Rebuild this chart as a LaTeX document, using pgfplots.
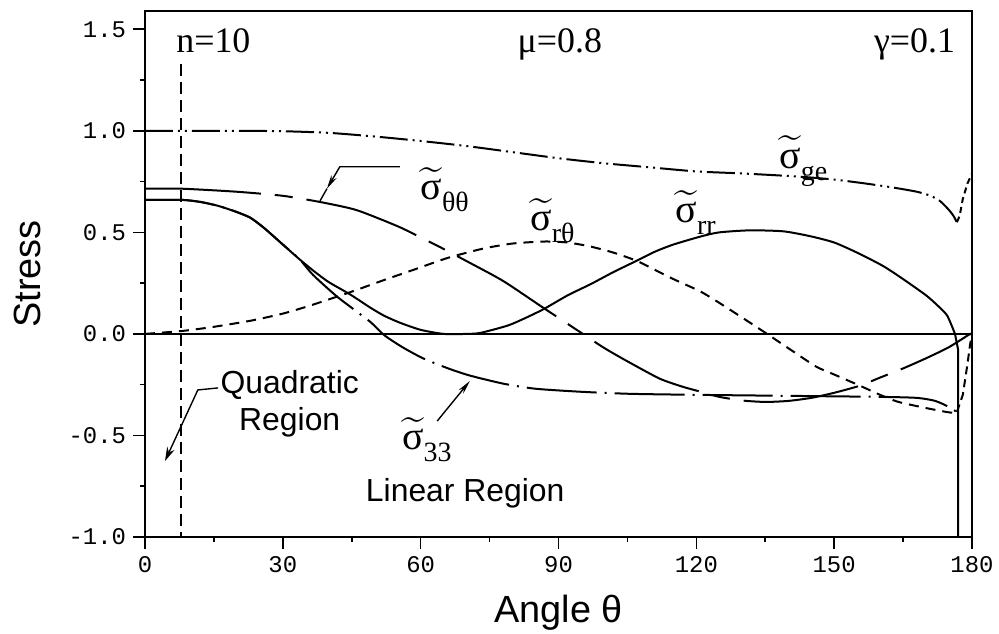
\documentclass[border=0pt]{standalone}
\usepackage{fontspec}
\setmainfont{Liberation Serif}
\setsansfont{Liberation Sans}
\setmonofont{Liberation Mono}
\usepackage{amsmath}
\usepackage{pgfplots}
\pgfplotsset{compat=1.18}
\usetikzlibrary{arrows.meta}
\newcommand{\stil}[1]{$\widetilde{\text{σ}}$\raisebox{-0.3em}{\fontsize{14}{14}\selectfont #1}}
\begin{document}
\begin{tikzpicture}
\begin{axis}[
 scale only axis, width=413.5bp, height=263bp,
 xmin=0, xmax=180, ymin=-1, ymax=1.59,
 axis line style={line width=1bp},
 xtick={0,30,60,90,120,150,180}, xticklabels={0,30,60,90,120,150,180},
 ytick={-1,-0.5,0,0.5,1,1.5}, yticklabels={-1.0,-0.5,0.0,0.5,1.0,1.5},
 minor x tick num=1, minor y tick num=1,
 tick align=outside, tick pos=left,
 major tick length=6bp, minor tick length=2.5bp,
 every tick/.style={black, line width=0.8bp},
 tick label style={font=\ttfamily\fontsize{12}{12}\selectfont},
 xlabel={Angle θ}, ylabel={Stress},
 label style={font=\sffamily\fontsize{19}{19}\selectfont},
 xlabel style={at={([yshift=-38bp]axis description cs:0.5,0)}, anchor=center},
 ylabel style={at={([xshift=-59bp]axis description cs:0,0.5)}, anchor=center},
 clip mode=individual,
]
% zero line
\addplot[black, line width=0.8bp] coordinates {(0,0) (180,0)};
% quadratic/linear boundary
\addplot[black, line width=0.8bp, dash pattern=on 6bp off 3bp] coordinates {(7.8,1.33) (7.8,-1)};
% sigma_ge
\addplot[black, line width=1bp, smooth, tension=0.4, dash pattern=on 14bp off 2.5bp on 1bp off 2.5bp on 1bp off 2.5bp] coordinates {
(0,1.0) (10,1.0) (20,1.0) (30,0.998) (40,0.99) (50,0.972) (60,0.95) (70,0.925) (80,0.895) (90,0.865) (100,0.84) (110,0.82) (120,0.80) (130,0.79) (142,0.775) (150,0.76) (157,0.74) (163,0.72) (168,0.70) (171,0.68) (173,0.655) (175,0.61) (176,0.58) (176.7,0.55)};
\addplot[black, line width=1bp, dash pattern=on 3bp off 2bp] coordinates {
(176.7,0.55) (177.3,0.58) (178,0.665) (179,0.74) (180,0.79)};
% sigma_thetatheta
\addplot[black, line width=1bp, smooth, tension=0.4, dash pattern=on 58bp off 7bp on 9bp off 7bp] coordinates {
(0,0.715) (8,0.715) (20,0.70) (30,0.68) (38,0.65) (46,0.61) (55,0.53) (60,0.475) (64,0.43) (70.7,0.35) (78,0.26) (86.6,0.13) (95.3,0.0) (100,-0.07) (105,-0.135) (112,-0.22) (117,-0.26) (121,-0.285) (125,-0.31) (130,-0.328) (135,-0.335) (140,-0.33) (145,-0.315) (150,-0.29) (155.6,-0.255) (160,-0.215) (165,-0.17) (170,-0.12) (175,-0.065) (179.6,0.0) (180,0.0)};
% sigma_rr
\addplot[black, line width=1bp, smooth, tension=0.4] coordinates {
(0,0.66) (8,0.66) (12,0.65) (16,0.63) (20,0.60) (23,0.571) (26,0.52) (30,0.44) (33.7,0.366) (37,0.305) (40,0.255) (44.6,0.195) (49,0.13) (52,0.09) (55.5,0.055) (60,0.02) (65,0.0) (70,0.0) (73,0.005) (78.8,0.04) (82,0.07) (86.6,0.12) (92,0.19) (97,0.245) (102,0.305) (107,0.36) (111,0.405) (115,0.44) (121,0.48) (125,0.50) (131.7,0.51) (139,0.505) (145,0.48) (150,0.45) (155,0.40) (160.6,0.335) (165,0.27) (170,0.19) (172.5,0.14) (174.6,0.09) (176.3,0.0)};
\addplot[black, line width=1bp] coordinates {(176.3,0.0) (177,-0.08) (177,-1.0)};
% sigma_rtheta
\addplot[black, line width=1bp, smooth, tension=0.4, dash pattern=on 5bp off 3.5bp] coordinates {
(0,0.0) (8.3,0.015) (15,0.035) (23,0.065) (30,0.10) (36,0.14) (44.6,0.205) (52,0.265) (59,0.32) (66,0.375) (73.6,0.42) (80,0.445) (87,0.455) (92,0.45) (97,0.43) (102,0.40) (107,0.36) (111,0.315) (115,0.27) (120.8,0.21) (124.5,0.16) (130,0.08) (135.4,0.0) (140,-0.07) (146,-0.16) (150,-0.2) (155.6,-0.255) (160,-0.3) (164,-0.335) (170,-0.365) (174.6,-0.385) (176.5,-0.39)};
% sigma_33
\addplot[black, line width=1bp, smooth, tension=0.4, dash pattern=on 35bp off 4bp on 1bp off 4bp] coordinates {
(0,0.66) (8,0.66) (12,0.65) (16,0.63) (20,0.60) (23,0.571) (26,0.52) (30,0.44) (33.7,0.366) (36.6,0.29) (42,0.18) (49,0.06) (52,-0.005) (56,-0.065) (60.5,-0.12) (66,-0.17) (70.7,-0.205) (78,-0.245) (85,-0.27) (95,-0.285) (105.6,-0.295) (120,-0.30) (140,-0.305) (160,-0.31) (168,-0.315) (172,-0.33) (175,-0.36) (176.7,-0.385)};
\addplot[black, line width=1bp, dash pattern=on 4bp off 2.5bp] coordinates {
(176.7,-0.385) (178,-0.3) (179,-0.15) (179.6,-0.05) (180,0.0)};
% annotations
\node[font=\fontsize{18}{18}\selectfont, anchor=base west] at (axis cs:5.3,1.384) {n=10};
\node[font=\fontsize{18}{18}\selectfont, anchor=base] at (axis cs:90.3,1.384) {μ=0.8};
\node[font=\fontsize{18}{18}\selectfont, anchor=base] at (axis cs:167.5,1.384) {γ=0.1};
\node[font=\fontsize{20}{20}\selectfont, anchor=base west, inner sep=0pt] at (axis cs:59.9,0.66) {\stil{θθ}};
\node[font=\fontsize{20}{20}\selectfont, anchor=base west, inner sep=0pt] at (axis cs:83.8,0.507) {\stil{rθ}};
\node[font=\fontsize{20}{20}\selectfont, anchor=base west, inner sep=0pt] at (axis cs:115.4,0.547) {\stil{rr}};
\node[font=\fontsize{20}{20}\selectfont, anchor=base west, inner sep=0pt] at (axis cs:138,0.815) {\stil{ge}};
\node[font=\fontsize{20}{20}\selectfont, anchor=base west, inner sep=0pt] at (axis cs:55.9,-0.571) {\stil{33}};
\node[font=\sffamily\fontsize{16}{18.5}\selectfont, align=center] at (axis cs:31.5,-0.345) {Quadratic\\Region};
\node[font=\sffamily\fontsize{16}{16}\selectfont] at (axis cs:69.7,-0.783) {Linear Region};
\draw[line width=0.7bp, -{Stealth[length=7bp,width=4bp]}] (axis cs:15.9,-0.266) -- (axis cs:11.5,-0.276) -- (axis cs:4.35,-0.626);
\draw[line width=0.7bp, -{Stealth[length=7bp,width=3bp]}] (axis cs:55.5,0.823) -- (axis cs:42.4,0.823) -- (axis cs:39.6,0.715);
\draw[line width=0.7bp] (axis cs:39.6,0.715) -- (axis cs:38.1,0.655);
\draw[line width=0.7bp, -{Stealth[length=7bp,width=3bp]}] (axis cs:63.6,-0.429) -- (axis cs:70.7,-0.232);
\end{axis}
\pgfresetboundingbox
\path[use as bounding box] ([xshift=-72.5bp,yshift=-48.5bp]current axis.south west) rectangle ([xshift=13.5bp,yshift=5.5bp]current axis.north east);
\end{tikzpicture}
\end{document}
